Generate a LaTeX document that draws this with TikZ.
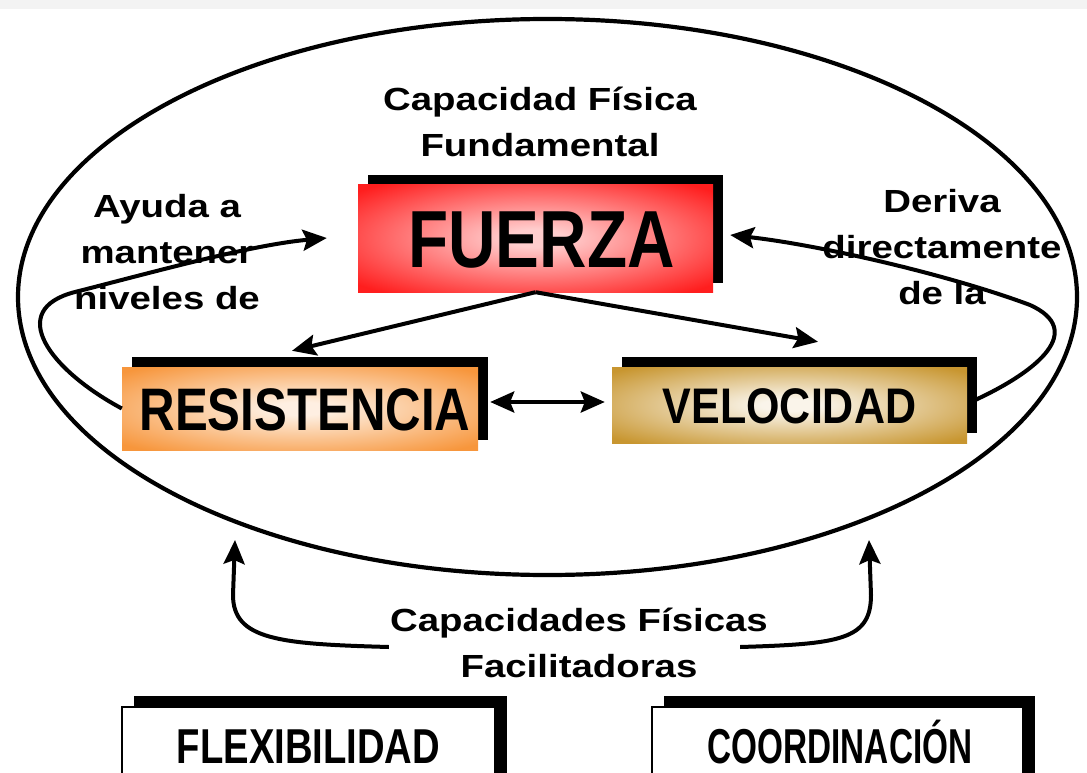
\documentclass[tikz,border=0pt]{standalone}
\usepackage{fontspec}
\setmainfont{Liberation Sans}
\newfontfamily\labfont{Liberation Sans}[FakeStretch=1.2]
\usepackage{graphicx}
\usetikzlibrary{arrows.meta,shadows,calc}
\definecolor{fred}{RGB}{255,30,30}
\definecolor{rorange}{RGB}{247,150,60}
\definecolor{vgold}{RGB}{200,150,48}
\definecolor{bandgray}{RGB}{243,243,243}
\colorlet{fredc}{white!78!fred}
\colorlet{rorangec}{white!85!rorange}
\colorlet{vgoldc}{white!90!vgold}
\pgfdeclareradialshading{fglow}{\pgfpoint{0bp}{0bp}}{color(0bp)=(fredc); color(4bp)=(fredc); color(33bp)=(fred); color(50bp)=(fred)}
\pgfdeclareradialshading{rglow}{\pgfpoint{0bp}{0bp}}{color(0bp)=(rorangec); color(4bp)=(rorangec); color(33bp)=(rorange); color(50bp)=(rorange)}
\pgfdeclareradialshading{vglow}{\pgfpoint{0bp}{0bp}}{color(0bp)=(vgoldc); color(4bp)=(vgoldc); color(33bp)=(vgold); color(50bp)=(vgold)}
\tikzset{
  lab/.style={font=\labfont\bfseries\fontsize{32}{46}\selectfont, align=center, inner sep=0pt},
  capbox/.style={inner sep=0pt, text depth=0pt,
    drop shadow={shadow xshift=#1, shadow yshift=#1, fill=black, opacity=1}},
  tip/.tip={Stealth[length=24pt,width=21pt,inset=4pt]},
  arr/.style={line width=4pt, -tip},
  darr/.style={line width=4pt, tip-tip},
}
\begin{document}
\begin{tikzpicture}[x=1pt,y=-1pt]
\useasboundingbox (0,0) rectangle (1087,773);
\clip (0,0) rectangle (1087,773);
\fill[bandgray] (0,0) rectangle (1087,9);
\draw[line width=4.2pt] (547.5,297) ellipse [x radius=529.5, y radius=278];

% main boxes
\node[capbox=9.5pt, shading=fglow, minimum width=355pt, minimum height=108pt, text height=58pt,
      font=\bfseries\fontsize{81}{81}\selectfont] (fuerza) at (535.5,238)
      {\hspace*{12pt}\scalebox{0.81}[1]{FUERZA}};
\node[capbox=10pt, shading=rglow, minimum width=356pt, minimum height=83pt, text height=43pt,
      font=\bfseries\fontsize{60}{60}\selectfont] (res) at (300,408.5)
      {\hspace*{10pt}\scalebox{0.82}[1]{RESISTENCIA}};
\node[capbox=10pt, shading=vglow, minimum width=355pt, minimum height=76pt, text height=36pt,
      font=\bfseries\fontsize{50}{50}\selectfont] (vel) at (789.5,405)
      {\scalebox{0.86}[1]{VELOCIDAD}};
\node[capbox=11.5pt, fill=white, draw=black, line width=2.5pt, minimum width=373pt, minimum height=77pt, text height=35pt,
      font=\bfseries\fontsize{49}{49}\selectfont] (flex) at (308.5,745.5)
      {\scalebox{0.78}[1]{FLEXIBILIDAD}};
\node[capbox=11.5pt, fill=white, draw=black, line width=2.5pt, minimum width=371pt, minimum height=77pt, text height=35pt,
      font=\bfseries\fontsize{49}{49}\selectfont] (coord) at (837.5,745.5)
      {\hspace*{5pt}\scalebox{0.68}[1]{COORDINACIÓN}};

% labels
\node[lab] (cap) at (540,122.3) {Capacidad Física\\Fundamental};
\node[lab] (ayuda) at (167,252.3) {Ayuda a\\mantener\\niveles de};
\node[lab] (deriva) at (942,247.5) {Deriva\\directamente\\de la};
\node[lab] (facil) at (579,643) {Capacidades Físicas\\Facilitadoras};

% connectors
\draw[arr] (fuerza.south) -- ([shift={(-8pt,16pt)}]res.north);
\draw[arr] (fuerza.south) -- ([shift={(28.5pt,25pt)}]vel.north);
\draw[darr] ([shift={(12pt,6.5pt)}]res.east) -- ([shift={(-7pt,3pt)}]vel.west);
\draw[arr] (res.west) .. controls (50,370) and (5,310) .. (75,292)
   .. controls (150,273) and (250,245) .. ([xshift=-31pt]fuerza.west);
\draw[arr] ([shift={(8pt,5pt)}]vel.east) .. controls (1040,370) and (1085,330) .. (1030,305)
   .. controls (950,275) and (820,245) .. ([shift={(17pt,3pt)}]fuerza.east);
\coordinate (eL) at (235,540);
\coordinate (eR) at (869,540);
\draw[arr] ([shift={(-1pt,-4pt)}]facil.west) .. controls (280,644) and (233,640) .. (233,595) -- (eL);
\draw[arr] ([shift={(-28pt,-4pt)}]facil.east) .. controls (840,644) and (871,640) .. (871,595) -- (eR);
\end{tikzpicture}
\end{document}
